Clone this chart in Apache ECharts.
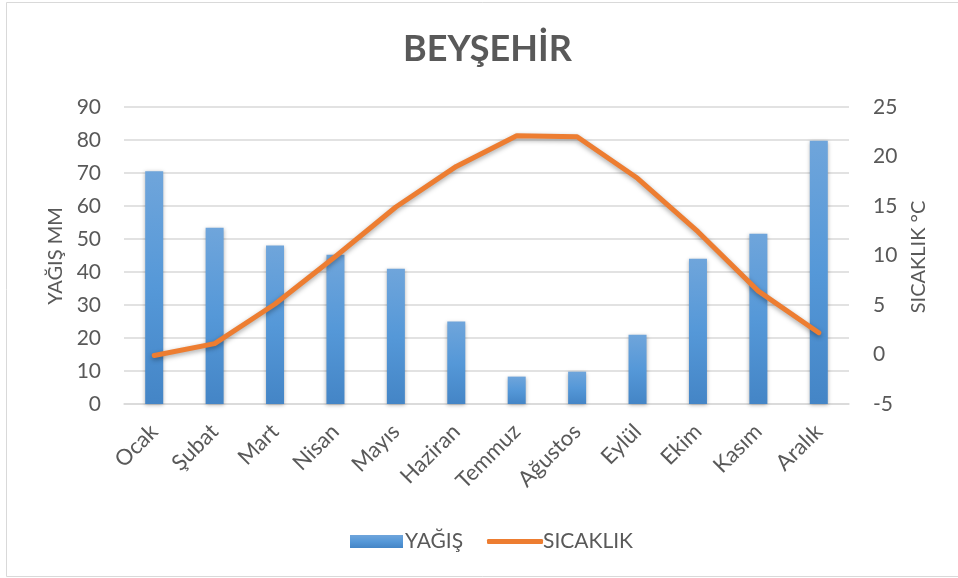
<!DOCTYPE html>
<html>
<head>
<meta charset="utf-8">
<script src="https://cdn.jsdelivr.net/npm/echarts@6/dist/echarts.min.js"></script>
<style>
  html, body { margin: 0; padding: 0; background: #fff; }
  #chart { width: 958px; height: 578px; }
</style>
</head>
<body>
<div id="chart"></div>
<script>
var months = ['Ocak', 'Şubat', 'Mart', 'Nisan', 'Mayıs', 'Haziran', 'Temmuz', 'Ağustos', 'Eylül', 'Ekim', 'Kasım', 'Aralık'];
var yagis = [70.5, 53.4, 48.0, 45.2, 41.0, 25.0, 8.3, 9.8, 21.0, 44.0, 51.6, 79.8];
var sicaklik = [-0.1, 1.1, 5.1, 9.9, 14.9, 19.0, 22.1, 22.0, 17.8, 12.4, 6.4, 2.2];

var chartDom = document.getElementById('chart');
var myChart = echarts.init(chartDom);
var textColor = '#595959';
var font = 'Lato';
var option;

// axis titles are drawn as plain text so they sit where Excel puts them
option = {
    backgroundColor: '#fff',
    animation: false,
    title: {
        text: 'BEYŞEHİR',
        left: 398,
        top: 26,
        textStyle: { fontFamily: font, fontSize: 36, fontWeight: 'bold', color: textColor }
    },
    graphic: [
        {
            type: 'rect',
            shape: { x: 6.5, y: 2.5, width: 960, height: 574 },
            style: { fill: 'none', stroke: '#d9d9d9', lineWidth: 1 }
        },
        {
            type: 'text',
            x: 56, y: 256,
            rotation: Math.PI / 2,
            style: { text: 'YAĞIŞ MM', fill: textColor, font: '20px Lato', align: 'center', verticalAlign: 'middle' }
        },
        {
            type: 'text',
            x: 919, y: 257,
            rotation: Math.PI / 2,
            style: { text: 'SICAKLIK °C', fill: textColor, font: '20px Lato', align: 'center', verticalAlign: 'middle' }
        }
    ],
    legend: [
        {
            bottom: 21,
            left: 345,
            itemWidth: 53,
            itemHeight: 13,
            textStyle: { fontFamily: font, fontSize: 21, color: textColor, padding: [0, 0, 0, -3] },
            data: [{ name: 'YAĞIŞ', icon: 'rect' }]
        },
        {
            bottom: 21,
            left: 482,
            itemWidth: 56,
            itemHeight: 5,
            textStyle: { fontFamily: font, fontSize: 21, color: textColor, padding: [0, 0, 0, -5] },
            data: [{ name: 'SICAKLIK', icon: 'roundRect' }]
        }
    ],
    grid: {
        left: 124,
        right: 109,
        top: 107,
        bottom: 174
    },
    xAxis: {
        type: 'category',
        data: months,
        axisLine: { lineStyle: { color: '#d9d9d9', width: 1.5 } },
        axisTick: { show: false },
        axisLabel: {
            rotate: 45,
            margin: 24,
            fontFamily: font,
            fontSize: 22,
            color: textColor
        }
    },
    yAxis: [
        {
            type: 'value',
            min: 0,
            max: 90,
            interval: 10,
            axisLabel: { margin: 23, fontFamily: font, fontSize: 21, color: textColor },
            axisLine: { show: false },
            axisTick: { show: false },
            splitLine: { lineStyle: { color: '#d9d9d9', width: 1.5 } }
        },
        {
            type: 'value',
            min: -5,
            max: 25,
            interval: 5,
            axisLabel: { margin: 24, fontFamily: font, fontSize: 21, color: textColor },
            axisLine: { show: false },
            axisTick: { show: false },
            splitLine: { show: false }
        }
    ],
    series: [
        {
            name: 'YAĞIŞ',
            type: 'bar',
            barWidth: 18,
            data: yagis,
            itemStyle: {
                color: new echarts.graphic.LinearGradient(0, 0, 0, 1, [
                    { offset: 0, color: '#6fa5db' },
                    { offset: 0.5, color: '#5598d8' },
                    { offset: 1, color: '#4485c6' }
                ]),
                shadowBlur: 4,
                shadowOffsetY: 1,
                shadowColor: 'rgba(0,0,0,0.3)'
            }
        },
        {
            name: 'SICAKLIK',
            type: 'line',
            yAxisIndex: 1,
            data: sicaklik,
            symbol: 'none',
            color: '#ed7d31',
            lineStyle: {
                color: '#ed7d31',
                width: 5,
                cap: 'round',
                join: 'round',
                shadowBlur: 5,
                shadowOffsetY: 2,
                shadowColor: 'rgba(0,0,0,0.35)'
            }
        }
    ]
};

option && myChart.setOption(option);
</script>
</body>
</html>
